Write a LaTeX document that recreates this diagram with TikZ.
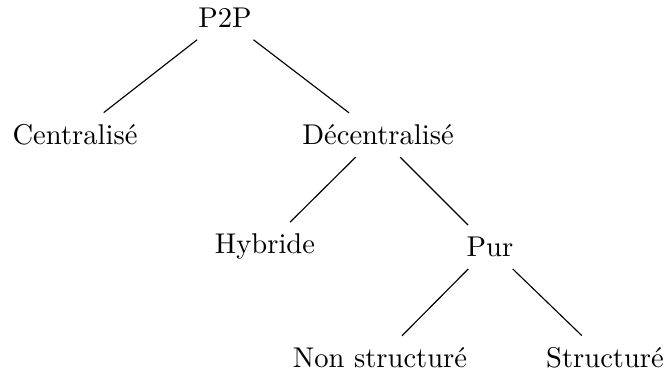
\documentclass[tikz,border=0pt]{standalone}
\begin{document}
\begin{tikzpicture}[x=0.35pt,y=-0.35pt,
  lbl/.style={inner sep=4pt},
  edge/.style={draw=black,line width=0.4pt}]
\useasboundingbox (0,0) rectangle (666,375);
\node[lbl] (p2p) at (225,18) {P2P};
\node[lbl] (cen) at (75,135) {Centralisé};
\node[lbl] (dec) at (378,135) {Décentralisé};
\node[lbl] (hyb) at (265,247) {Hybride};
\node[lbl] (pur) at (490,247) {Pur};
\node[lbl] (non) at (380,358) {Non structuré};
\node[lbl] (str) at (605,358) {Structuré};
\draw[edge] (p2p) -- (cen);
\draw[edge] (p2p) -- (dec);
\draw[edge] (dec) -- (hyb);
\draw[edge] (dec) -- (pur);
\draw[edge] (pur) -- (non);
\draw[edge] (pur) -- (str);
\end{tikzpicture}
\end{document}
